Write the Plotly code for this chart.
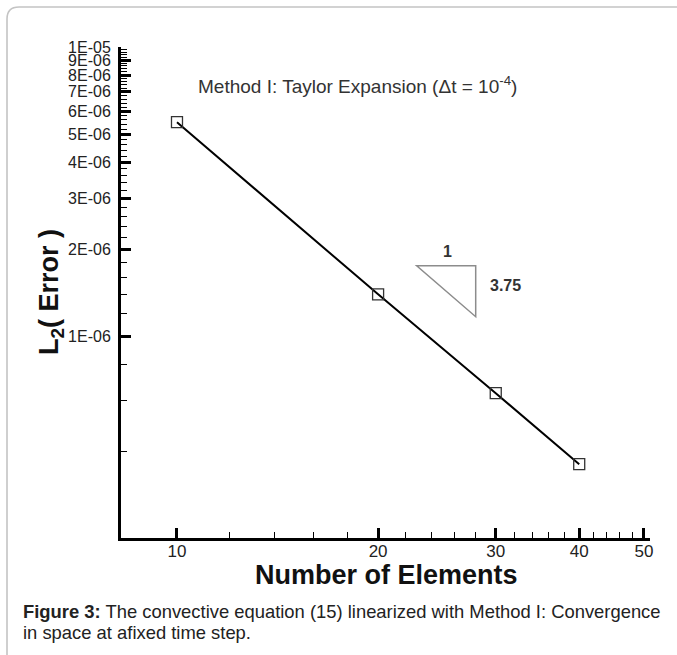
import plotly.graph_objects as go

# ---- data ----
elements = [10, 20, 30, 40]
l2_error = [5.5e-6, 1.40e-6, 6.38e-7, 3.63e-7]

x_tick_vals = [10, 20, 30, 40, 50]
x_tick_text = ["10", "20", "30", "40", "50"]
x_minor_vals = [12, 14, 16, 18, 22, 24, 26, 28, 32, 34, 36, 38, 42, 44, 46, 48]

y_tick_vals = [1e-6, 2e-6, 3e-6, 4e-6, 5e-6, 6e-6, 7e-6, 8e-6, 9e-6, 1e-5]
y_tick_text = ["1E-06", "2E-06", "3E-06", "4E-06", "5E-06", "6E-06", "7E-06", "8E-06", "9E-06", "1E-05"]
y_minor_vals = [4e-7, 6e-7, 8e-7] + [k * 1e-7 for k in range(12, 100, 2) if k % 10 != 0]

title_text = "Method I: Taylor Expansion (\u0394t = 10<sup>-4</sup>)"
x_title = "Number of Elements"
y_title = "L<sub>2</sub>( Error )"
caption_lines = ["<b>Figure 3:</b> The convective equation (15) linearized with Method I: Convergence",
                 "in space at afixed time step."]
slope_run = "1"
slope_rise = "3.75"

# ---- layout geometry (pixels) ----
W, H = 677, 655
L, R, T, B = 121, 27, 47, 117
PW, PH = W - L - R, H - T - B


def px(x):
    return (x - L) / PW


def py(y):
    return (H - B - y) / PH


FONT = "Liberation Sans, Arial, sans-serif"

fig = go.Figure()
fig.add_trace(go.Scatter(
    x=elements, y=l2_error, mode="lines+markers",
    line=dict(color="black", width=2),
    marker=dict(symbol="square-open", size=11, color="#333", line=dict(width=1.3, color="#333")),
    showlegend=False, cliponaxis=False,
))

# slope triangle (pixel positions)
tri = [(416.7, 265.7), (475.7, 265.7), (475.7, 316.7)]
path = "M {} {} L {} {} L {} {} Z".format(px(tri[0][0]), py(tri[0][1]), px(tri[1][0]), py(tri[1][1]),
                                          px(tri[2][0]), py(tri[2][1]))
shapes = [dict(type="path", xref="paper", yref="paper", path=path,
               line=dict(color="#8c8c8c", width=1.5))]

# outer frame with rounded corner
r = 12
frame = "M {} {} L {} {} Q {} {} {} {} L {} {}".format(
    px(7), py(660), px(7), py(7 + r), px(7), py(7), px(7 + r), py(7), px(680), py(7))
shapes.append(dict(type="path", xref="paper", yref="paper", path=frame,
                   line=dict(color="#c4c4c4", width=1.6)))

annotations = [
    dict(x=px(196), y=py(85), xref="paper", yref="paper", text=title_text, showarrow=False,
         xanchor="left", yanchor="middle", font=dict(family=FONT, size=19, color="#333")),
    dict(x=px(386), y=py(575), xref="paper", yref="paper", text="<b>" + x_title + "</b>", showarrow=False,
         xanchor="center", yanchor="middle", font=dict(family=FONT, size=27, color="#111")),
    dict(x=px(51), y=py(292), xref="paper", yref="paper", text="<b>" + y_title + "</b>", showarrow=False,
         textangle=-90, xanchor="center", yanchor="middle", font=dict(family=FONT, size=27, color="#111")),
    dict(x=px(447), y=py(252), xref="paper", yref="paper", text="<b>" + slope_run + "</b>", showarrow=False,
         xanchor="center", yanchor="middle", font=dict(family=FONT, size=16, color="#333")),
    dict(x=px(505), y=py(285), xref="paper", yref="paper", text="<b>" + slope_rise + "</b>", showarrow=False,
         xanchor="center", yanchor="middle", font=dict(family=FONT, size=16, color="#333")),
]
for i, line in enumerate(caption_lines):
    annotations.append(dict(x=px(21), y=py(611 + 21 * i), xref="paper", yref="paper", text=line,
                            showarrow=False, align="left", xanchor="left", yanchor="middle",
                            font=dict(family=FONT, size=18.4, color="#222")))

fig.update_layout(
    width=W, height=H,
    margin=dict(l=L, r=R, t=T, b=B, pad=0),
    paper_bgcolor="white", plot_bgcolor="white",
    font=dict(family=FONT, color="#222"),
    shapes=shapes, annotations=annotations,
    showlegend=False,
)

fig.update_xaxes(
    type="log", range=[0.9162, 1.708],
    showgrid=False, zeroline=False,
    showline=True, linecolor="black", linewidth=3,
    tickmode="array", tickvals=x_tick_vals, ticktext=x_tick_text,
    ticks="inside", ticklen=10, tickwidth=2.5, tickcolor="black",
    tickfont=dict(family=FONT, size=17, color="#222"),
    ticklabelstandoff=-4,
    minor=dict(tickmode="array", tickvals=x_minor_vals, ticks="inside", ticklen=6, tickwidth=1.3,
               tickcolor="black", showgrid=False),
)
fig.update_yaxes(
    type="log", range=[-6.695, -5.0],
    showgrid=False, zeroline=False,
    showline=True, linecolor="black", linewidth=3,
    tickmode="array", tickvals=y_tick_vals, ticktext=y_tick_text,
    ticks="inside", ticklen=10, tickwidth=2.5, tickcolor="black",
    tickfont=dict(family=FONT, size=16, color="#222"),
    ticklabelstandoff=4,
    minor=dict(tickmode="array", tickvals=y_minor_vals, ticks="inside", ticklen=6, tickwidth=1.3,
               tickcolor="black", showgrid=False),
)

fig.write_html("out.html")
